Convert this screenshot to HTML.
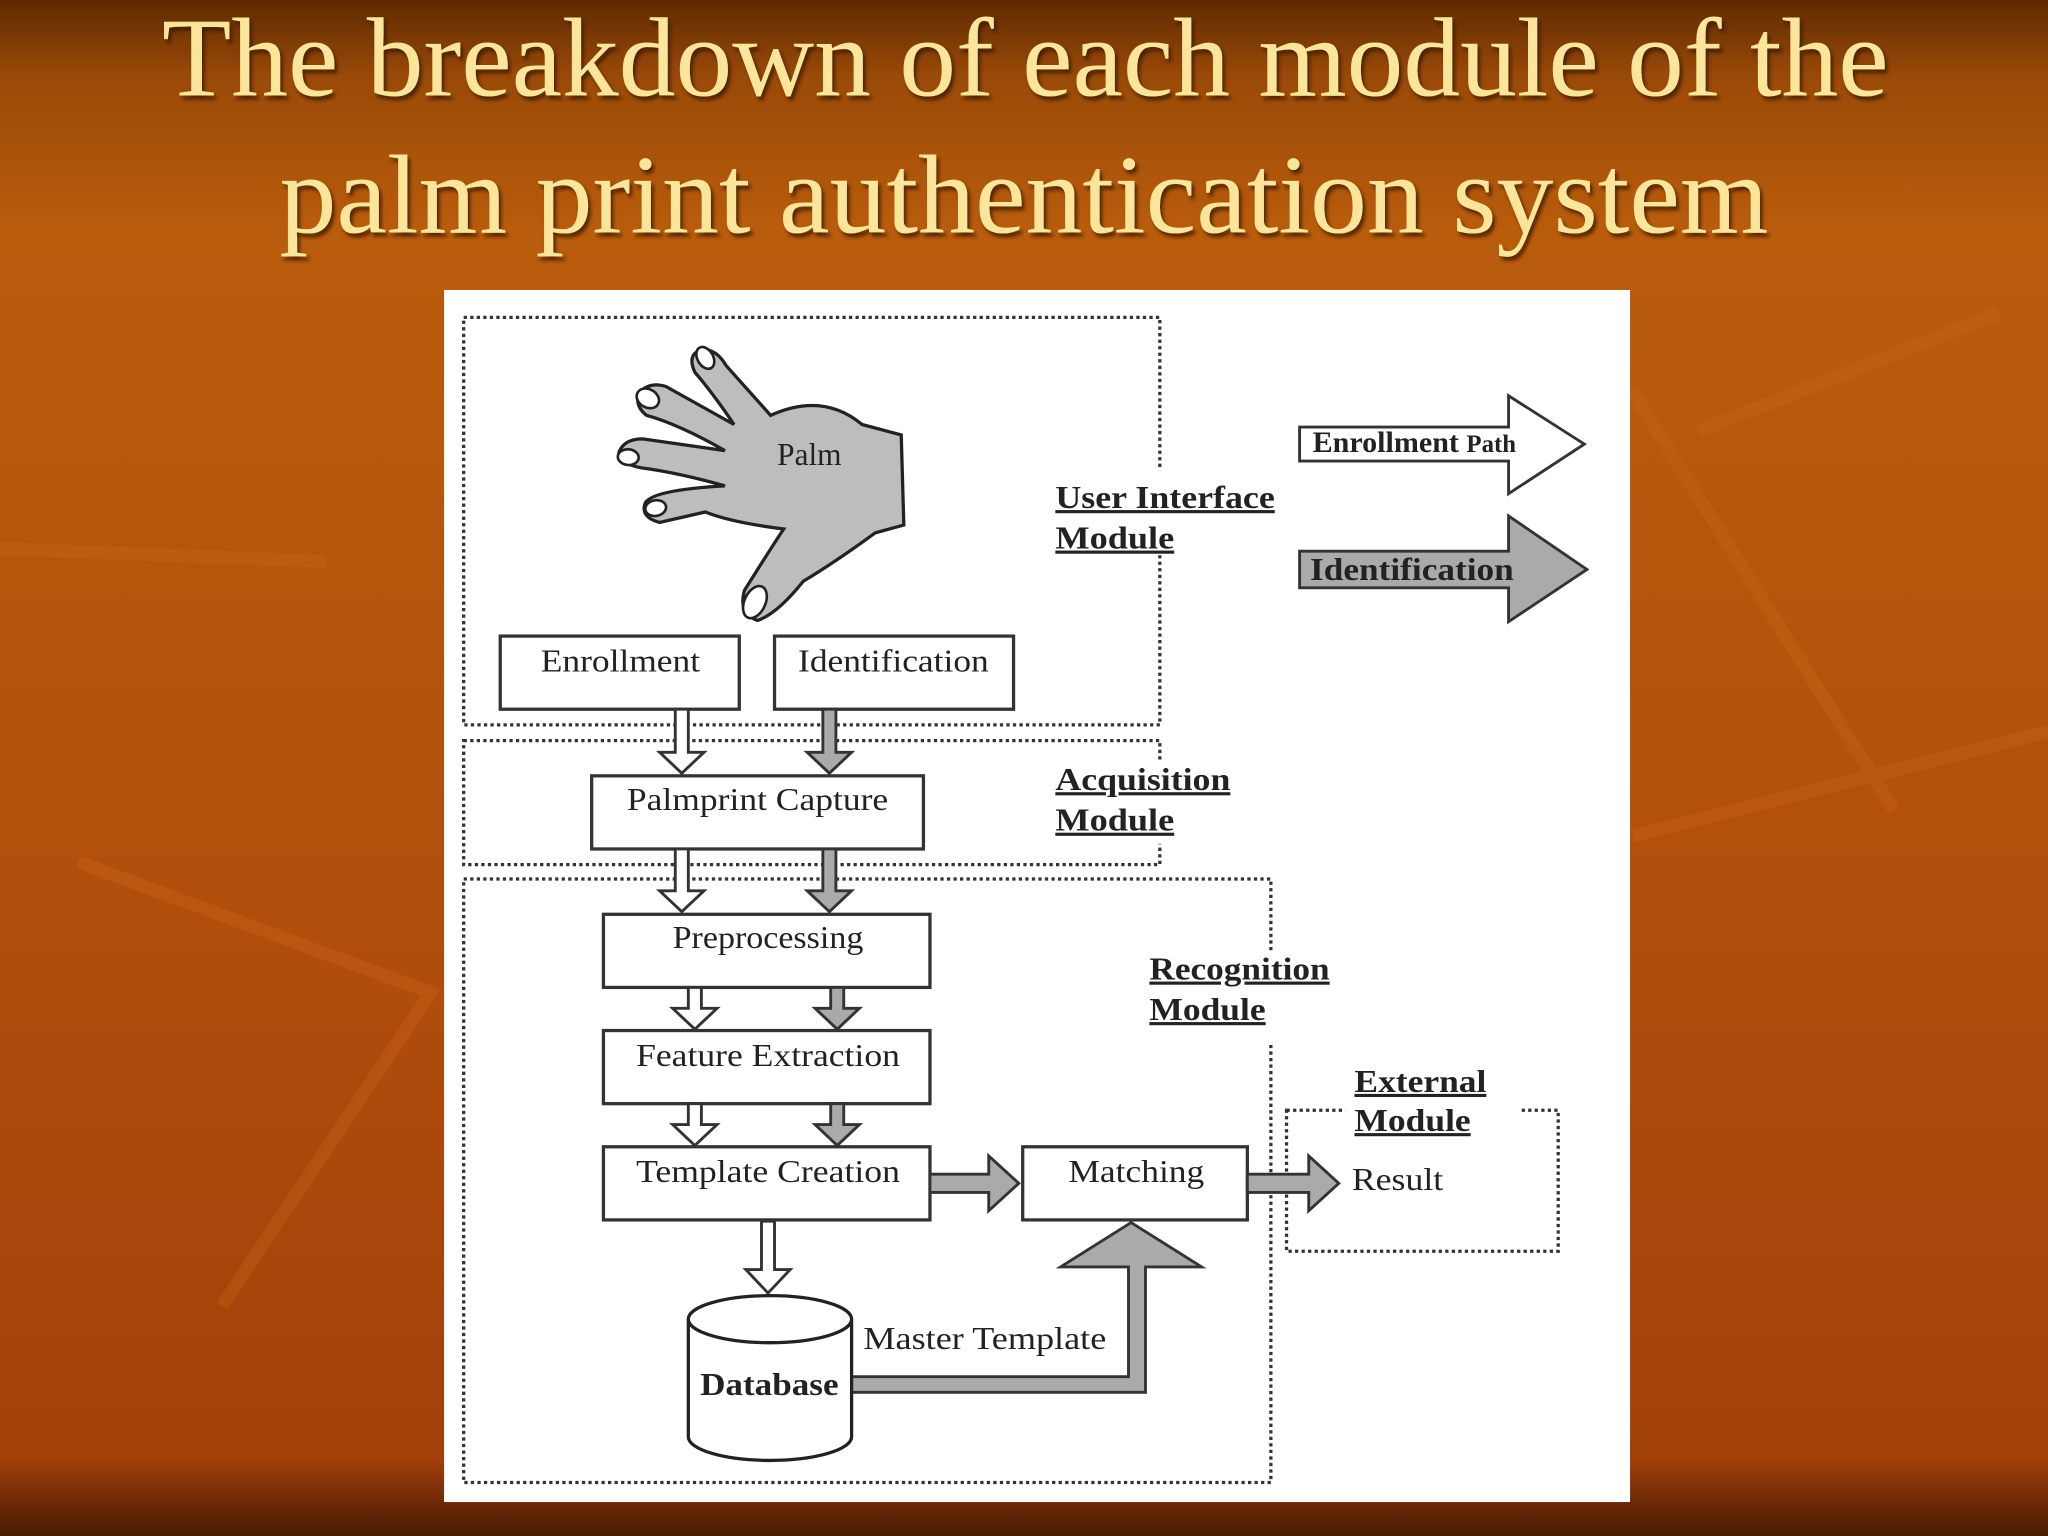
<!DOCTYPE html>
<html><head><meta charset="utf-8"><style>
html,body{margin:0;padding:0;width:2048px;height:1536px;overflow:hidden;background:#b85510}
svg{display:block}
</style></head><body>
<svg width="2048" height="1536" viewBox="0 0 1568 1176" preserveAspectRatio="none" xmlns="http://www.w3.org/2000/svg" font-family="Liberation Serif, serif">
<defs>
<linearGradient id="bg" x1="0" y1="0" x2="0" y2="1">
<stop offset="0" stop-color="#5e2a02"/>
<stop offset="0.05" stop-color="#9a4a08"/>
<stop offset="0.15" stop-color="#b95c0c"/>
<stop offset="0.6" stop-color="#b24e0c"/>
<stop offset="0.95" stop-color="#a2400a"/>
<stop offset="0.98" stop-color="#6a2806"/>
<stop offset="1" stop-color="#4a1c04"/>
</linearGradient>
<filter id="sh"><feDropShadow dx="2" dy="3" stdDeviation="1.5" flood-color="#3a1800" flood-opacity="0.8"/></filter>
</defs>
<rect width="1568" height="1176" fill="url(#bg)"/>
<g stroke="#cc6a1a" stroke-width="10" fill="none" opacity="0.3">
<path d="M0 420 L250 430 M60 660 L330 760 L170 1000 M1250 300 L1450 620 M1250 640 L1568 560 M1300 330 L1530 240"/>
</g>
<g fill="#fbe59a" filter="url(#sh)" font-size="86" text-anchor="middle">
<text x="785" y="73" textLength="1322" lengthAdjust="spacingAndGlyphs">The breakdown of each module of the</text>
<text x="784" y="178" textLength="1140" lengthAdjust="spacingAndGlyphs">palm print authentication system</text>
</g>
<rect x="340" y="222" width="908" height="928" fill="#fff"/>
<g fill="none" stroke="#333" stroke-width="2.5" stroke-dasharray="2.5 2.5">
<rect x="355" y="243" width="533" height="312"/>
<rect x="355" y="567" width="533" height="95"/>
<rect x="355" y="673" width="618" height="462"/>
<rect x="985" y="850" width="208" height="108"/>
</g>
<rect x="880" y="360" width="20" height="65" fill="#fff"/>
<rect x="880" y="582" width="20" height="64" fill="#fff"/>
<rect x="965" y="730" width="20" height="70" fill="#fff"/>
<rect x="1030" y="840" width="135" height="20" fill="#fff"/>
<g stroke="#222" stroke-width="2.5" fill="#bdbdbd">
<path d="M536 268 Q548 266 556 280 L590 318 Q630 300 660 325 L690 333 L692 402 L670 408 Q640 430 615 445 Q595 470 580 475 Q565 470 570 452 Q590 420 600 405 Q560 400 540 392 L505 400 Q490 396 494 385 Q500 375 555 372 Q520 362 490 358 Q472 354 474 346 Q478 336 492 336 L555 345 Q520 325 495 318 Q485 310 490 300 Q498 292 510 296 L562 325 Q545 300 532 285 Q526 272 536 268 Z"/>
</g>
<g fill="#fff" stroke="#222" stroke-width="2">
<ellipse cx="540" cy="274" rx="6" ry="9" transform="rotate(-30 540 274)"/>
<ellipse cx="496" cy="305" rx="7" ry="9" transform="rotate(-60 496 305)"/>
<ellipse cx="481" cy="350" rx="6" ry="8" transform="rotate(-85 481 350)"/>
<ellipse cx="502" cy="389" rx="6" ry="8" transform="rotate(-100 502 389)"/>
<ellipse cx="578" cy="461" rx="8" ry="13" transform="rotate(25 578 461)"/>
</g>
<text x="595" y="356" font-size="24" fill="#222">Palm</text>
<g fill="#fff" stroke="#333" stroke-width="2.5">
<rect x="383" y="487" width="183" height="56"/>
<rect x="593" y="487" width="183" height="56"/>
<rect x="453" y="594" width="254" height="56"/>
<rect x="462" y="700" width="250" height="56"/>
<rect x="462" y="789" width="250" height="56"/>
<rect x="462" y="878" width="250" height="56"/>
<rect x="783" y="878" width="172" height="56"/>
</g>
<g stroke="#333" stroke-width="2.2">
<path fill="#fff" d="M517 543 L527 543 L527 576 L539 576 L522 592 L505 576 L517 576 Z"/>
<path fill="#aaa" d="M630 543 L640 543 L640 576 L652 576 L635 592 L618 576 L630 576 Z"/>
<path fill="#fff" d="M517 650 L527 650 L527 682 L539 682 L522 698 L505 682 L517 682 Z"/>
<path fill="#aaa" d="M630 650 L640 650 L640 682 L652 682 L635 698 L618 682 L630 682 Z"/>
<path fill="#fff" d="M527 756 L537 756 L537 772 L549 772 L532 788 L515 772 L527 772 Z"/>
<path fill="#aaa" d="M636 756 L646 756 L646 772 L658 772 L641 788 L624 772 L636 772 Z"/>
<path fill="#fff" d="M527 845 L537 845 L537 861 L549 861 L532 877 L515 861 L527 861 Z"/>
<path fill="#aaa" d="M636 845 L646 845 L646 861 L658 861 L641 877 L624 861 L636 861 Z"/>
<path fill="#fff" d="M583 935 L593 935 L593 972 L605 972 L588 990 L571 972 L583 972 Z"/>
<path fill="#aaa" d="M712 899 L757 899 L757 885 L780 906 L757 927 L757 913 L712 913 Z"/>
<path fill="#aaa" d="M955 899 L1002 899 L1002 885 L1025 906 L1002 927 L1002 913 L955 913 Z"/>
<path fill="#aaa" d="M652 1054 L864 1054 L864 970 L812 970 L866 936 L920 970 L877 970 L877 1066 L652 1066 Z"/>
<path fill="#fff" d="M995 327 L1155 327 L1155 303 L1213 340 L1155 378 L1155 353 L995 353 Z"/>
<path fill="#aaa" d="M995 422 L1155 422 L1155 395 L1215 436 L1155 476 L1155 450 L995 450 Z"/>
</g>
<g stroke="#222" stroke-width="2.5" fill="#fff">
<path d="M527 1010 L527 1100 A62 18 0 0 0 652 1100 L652 1010"/>
<ellipse cx="589.5" cy="1010" rx="62.5" ry="18"/>
</g>
<g font-size="24" fill="#222" text-anchor="middle">
<text x="475" y="514" textLength="122" lengthAdjust="spacingAndGlyphs">Enrollment</text>
<text x="684" y="514" textLength="146" lengthAdjust="spacingAndGlyphs">Identification</text>
<text x="580" y="620" textLength="200" lengthAdjust="spacingAndGlyphs">Palmprint Capture</text>
<text x="588" y="726" textLength="146" lengthAdjust="spacingAndGlyphs">Preprocessing</text>
<text x="588" y="816" textLength="202" lengthAdjust="spacingAndGlyphs">Feature Extraction</text>
<text x="588" y="905" textLength="202" lengthAdjust="spacingAndGlyphs">Template Creation</text>
<text x="870" y="905" textLength="104" lengthAdjust="spacingAndGlyphs">Matching</text>
<text x="1070" y="911" textLength="70" lengthAdjust="spacingAndGlyphs">Result</text>
<text x="754" y="1033" textLength="186" lengthAdjust="spacingAndGlyphs">Master Template</text>
<text x="589" y="1068" font-weight="bold" textLength="106" lengthAdjust="spacingAndGlyphs">Database</text>
</g>
<g font-size="24" fill="#222" font-weight="bold">
<text x="1005" y="346" font-size="23">Enrollment <tspan font-size="19">Path</tspan></text>
<text x="1003" y="444" textLength="156" lengthAdjust="spacingAndGlyphs">Identification</text>
</g>
<g font-size="24" fill="#222" font-weight="bold" text-decoration="underline">
<text x="808" y="389" textLength="168" lengthAdjust="spacingAndGlyphs">User Interface</text>
<text x="808" y="420" textLength="91" lengthAdjust="spacingAndGlyphs">Module</text>
<text x="808" y="605" textLength="134" lengthAdjust="spacingAndGlyphs">Acquisition</text>
<text x="808" y="636" textLength="91" lengthAdjust="spacingAndGlyphs">Module</text>
<text x="880" y="750" textLength="138" lengthAdjust="spacingAndGlyphs">Recognition</text>
<text x="880" y="781" textLength="89" lengthAdjust="spacingAndGlyphs">Module</text>
<text x="1037" y="836" textLength="101" lengthAdjust="spacingAndGlyphs">External</text>
<text x="1037" y="866" textLength="89" lengthAdjust="spacingAndGlyphs">Module</text>
</g>
</svg>
</body></html>
